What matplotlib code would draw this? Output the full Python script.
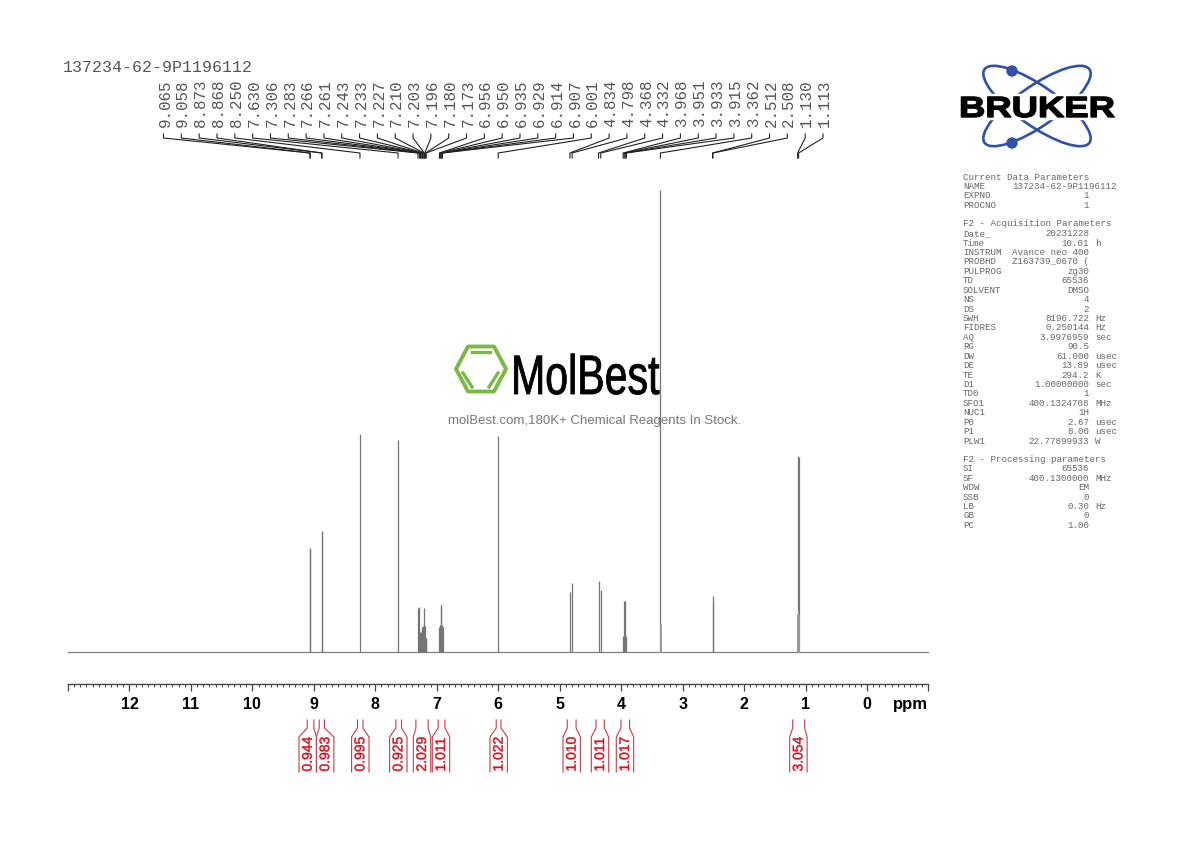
import matplotlib
matplotlib.use('Agg')
import matplotlib.pyplot as plt
import matplotlib.patheffects as pe
from matplotlib.patches import Ellipse, Circle, Polygon, Rectangle
from matplotlib.transforms import Affine2D

# peaks, heights
peak_ppm = [9.065, 9.058, 8.873, 8.868, 8.250, 7.630, 7.306, 7.283, 7.266, 7.261, 7.243, 7.233, 7.227,
            7.210, 7.203, 7.196, 7.180, 7.173, 6.956, 6.950, 6.935, 6.929, 6.914, 6.907, 6.001, 4.834,
            4.798, 4.368, 4.332, 3.968, 3.951, 3.933, 3.915, 3.362, 2.512, 2.508, 1.130, 1.113]
peak_height = [104, 103, 121, 120, 218, 212, 44, 45, 20, 20, 24, 25, 26,
               44, 27, 26, 14, 14, 25, 27, 47, 47, 27, 25, 216, 60,
               69, 71, 62, 16, 51, 51, 16, 462, 56, 50, 196, 195]
peak_labels = ['%.3f' % p for p in peak_ppm]

# the wider feet under the strong lines
foot_ppm = [3.372, 3.352, 1.142, 1.122, 1.101]
foot_height = [28, 28, 38, 42, 38]

integral_left = [9.108, 8.913, 8.29, 7.665, 7.34, 6.977, 6.033, 4.877, 4.41, 4.003, 1.21]
integral_right = [9.0, 8.827, 8.20, 7.574, 7.14, 6.867, 5.956, 4.734, 4.275, 3.863, 1.015]
integral_values = ['0.944', '0.983', '0.995', '0.925', '2.029', '1.011', '1.022', '1.010', '1.011', '1.017', '3.054']
integral_label_px = [307.7, 325.2, 360.3, 398.3, 422, 441, 498.7, 571.7, 600, 625, 798.4]

title = '137234-62-9P1196112'

params = [
    (177, 'Current Data Parameters', '', ''),
    (186.4, 'NAME', '', ''),
    (196, 'EXPNO', '1', ''),
    (205.3, 'PROCNO', '1', ''),
    (224, 'F2 - Acquisition Parameters', '', ''),
    (233.5, 'Date_', '20231228', ''),
    (243, 'Time', '10.01', 'h'),
    (252.4, 'INSTRUM', 'Avance neo 400', ''),
    (261.8, 'PROBHD', 'Z163739_0670 (', ''),
    (271.3, 'PULPROG', 'zg30', ''),
    (280.7, 'TD', '65536', ''),
    (290.1, 'SOLVENT', 'DMSO', ''),
    (299.6, 'NS', '4', ''),
    (309, 'DS', '2', ''),
    (318.4, 'SWH', '8196.722', 'Hz'),
    (327.9, 'FIDRES', '0.250144', 'Hz'),
    (337.3, 'AQ', '3.9976959', 'sec'),
    (346.7, 'RG', '90.5', ''),
    (356.2, 'DW', '61.000', 'usec'),
    (365.6, 'DE', '13.89', 'usec'),
    (375, 'TE', '294.2', 'K'),
    (384.5, 'D1', '1.00000000', 'sec'),
    (393.9, 'TD0', '1', ''),
    (403.3, 'SFO1', '400.1324708', 'MHz'),
    (412.8, 'NUC1', '1H', ''),
    (422.2, 'P0', '2.67', 'usec'),
    (431.6, 'P1', '8.00', 'usec'),
    (441, 'PLW1', '22.77899933', 'W'),
    (459.5, 'F2 - Processing parameters', '', ''),
    (468.9, 'SI', '65536', ''),
    (478.3, 'SF', '400.1300000', 'MHz'),
    (487.8, 'WDW', 'EM', ''),
    (497.2, 'SSB', '0', ''),
    (506.6, 'LB', '0.30', 'Hz'),
    (516, 'GB', '0', ''),
    (525.4, 'PC', '1.00', ''),
]


class Stretch(pe.AbstractPathEffect):
    # squeeze or widen the glyphs, the logos have no matching font
    def __init__(self, sx, lw=0.0):
        super().__init__()
        self.sx = sx
        self.lw = lw

    def draw_path(self, renderer, gc, tpath, affine, rgbFace=None):
        gc0 = renderer.new_gc()
        gc0.copy_properties(gc)
        gc0.set_linewidth(self.lw)
        gc0.set_foreground(rgbFace)
        renderer.draw_path(gc0, tpath, Affine2D().scale(self.sx, 1) + affine, rgbFace)
        gc0.restore()


plt.rcParams['font.family'] = ['Liberation Sans', 'DejaVu Sans']
fig = plt.figure(figsize=(11.9, 8.42), dpi=100)

ax = fig.add_axes([68 / 1190, (842 - 683.5) / 842, (928.5 - 68) / 1190, (683.5 - 180) / 842])
ax.set_xlim(13, -1)
ax.set_ylim(-31.5, 472)
ax.patch.set_alpha(0)
for s in ['top', 'left', 'right']:
    ax.spines[s].set_visible(False)
ax.spines['bottom'].set_color('#444444')
ax.spines['bottom'].set_linewidth(1.0)
ax.set_yticks([])

# spectrum
ax.axhline(0, color='#808080', lw=0.9, zorder=3)
ax.vlines(peak_ppm, 0, peak_height, color='#757575', lw=0.9, zorder=3)
ax.vlines(foot_ppm, 0, foot_height, color='#9a9a9a', lw=0.7, zorder=3)

major = list(range(-1, 14))
ax.set_xticks(major)
ax.set_xticklabels(['' if m in (-1, 13) else str(m) for m in major], fontweight='bold', fontsize=11.5)
ax.set_xticks([m / 10 for m in range(-10, 131) if m % 10 != 0], minor=True)
ax.tick_params(axis='x', which='major', length=5.2, width=0.9, color='#444444', pad=4.5, direction='out')
ax.tick_params(axis='x', which='minor', length=2, width=0.7, color='#444444', direction='out')
ax.text(-0.7, -52, 'ppm', fontweight='bold', fontsize=12, ha='center', va='center', color='black')

# overlay in picture pixels for everything outside the spectrum
ov = fig.add_axes([0, 0, 1, 1], zorder=-1)
ov.set_xlim(0, 1190)
ov.set_ylim(842, 0)
ov.axis('off')


def px(ppm):
    return ax.transData.transform((ppm, 0))[0]


ov.text(63, 68, title, family='Liberation Mono', fontsize=12, color='#555555', ha='left', va='center')

# peak labels and leader lines
n = len(peak_ppm)
for i, (p, lab) in enumerate(zip(peak_ppm, peak_labels)):
    lx = 163.5 + i * (823 - 163.5) / (n - 1)
    ov.text(lx + 1.5, 127, lab, family='Liberation Mono', fontsize=11.4, color='#555555',
            rotation=90, ha='center', va='bottom')
    ov.plot([lx, lx, px(p), px(p)], [134, 138, 153, 158], color='#222222', lw=0.8)

# integrals
for l, r, v, c in zip(integral_left, integral_right, integral_values, integral_label_px):
    for top, bot in ((px(l), c - 8.7), (px(r), c + 8.7)):
        ov.plot([top, top, bot, bot], [720, 728, 737, 772], color='#cf3a42', lw=0.8)
    ov.text(c, 771.5, v, color='#e0101c', fontsize=10, rotation=90, ha='center', va='bottom',
            path_effects=[Stretch(1.0, 0.35)])

# parameter panel
for y, key, val, unit in params:
    ov.text(963, y, key, family='Liberation Mono', fontsize=6.57, color='#666666', va='center')
    if val:
        ov.text(1089, y, val, family='Liberation Mono', fontsize=6.57, color='#666666', va='center', ha='right')
    if unit:
        ov.text(1095, y, unit, family='Liberation Mono', fontsize=6.57, color='#666666', va='center')
ov.text(1117, 186.4, title, family='Liberation Mono', fontsize=6.57, color='#666666', va='center', ha='right')

# Bruker logo
blue = '#2f52a8'
for angle in (35, -35):
    ov.add_patch(Ellipse((1037, 106), 128, 40, angle=angle, fill=False, ec=blue, lw=1.9))
ov.add_patch(Circle((1012, 71), 5, color=blue))
ov.add_patch(Circle((1012, 143), 5, color=blue))
ov.add_patch(Rectangle((955, 94), 165, 25, color='white', zorder=3))
ov.text(959, 117, 'BRUKER', fontweight='bold', fontsize=21, color='black', zorder=4, va='baseline',
        path_effects=[Stretch(1.25, 1.0)])

# MolBest watermark
green = '#7cb944'
ov.add_patch(Polygon([(456, 369), (468, 346.5), (494, 346.5), (506, 369), (494, 391.5), (468, 391.5)],
                     closed=True, fill=False, ec=green, lw=2.8, joinstyle='round'))
ov.plot([472, 490], [352, 352], color=green, lw=2.4)
ov.plot([463, 472], [373, 387], color=green, lw=2.4)
ov.plot([489, 498], [387, 373], color=green, lw=2.4)
ov.text(511, 394, 'MolBest', fontsize=40, color='black', va='baseline',
        path_effects=[Stretch(0.74, 0.6)])
ov.text(594.5, 421, 'molBest.com,180K+ Chemical Reagents In Stock.', fontsize=9.5, color='#777777',
        ha='center', va='center')

fig.savefig('out.png', dpi=100)
